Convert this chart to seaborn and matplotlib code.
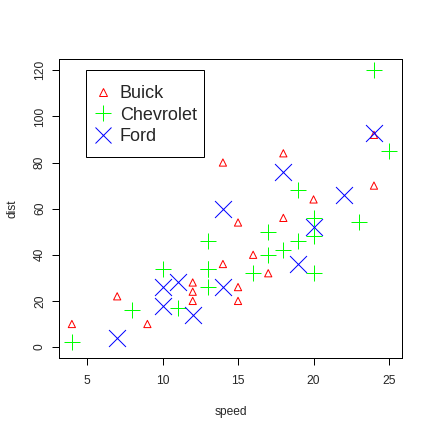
import matplotlib
matplotlib.use("Agg")
import matplotlib.pyplot as plt
from matplotlib.lines import Line2D
from matplotlib.patches import Rectangle
import pandas as pd
import seaborn as sns

# Stopping distance vs. speed, grouped by car make
speed = [4, 4, 7, 7, 8, 9, 10, 10, 10, 11, 11, 12, 12, 12, 12, 13, 13, 13, 13, 14,
         14, 14, 14, 15, 15, 15, 16, 16, 17, 17, 17, 18, 18, 18, 18, 19, 19, 19, 20, 20,
         20, 20, 20, 22, 23, 24, 24, 24, 24, 25]
dist = [2, 10, 4, 22, 16, 10, 18, 26, 34, 17, 28, 14, 20, 24, 28, 26, 34, 34, 46, 26,
        36, 60, 80, 20, 26, 54, 32, 40, 32, 40, 50, 42, 56, 76, 84, 36, 46, 68, 32, 48,
        52, 56, 64, 66, 54, 70, 92, 93, 120, 85]
make_code = ["C", "B", "F", "B", "C", "B", "F", "F", "C", "C", "F", "F", "B", "B", "B",
             "C", "C", "C", "C", "F", "B", "F", "B", "B", "B", "B", "C", "B", "B", "C",
             "C", "C", "B", "F", "B", "F", "C", "C", "C", "C", "F", "C", "B", "F", "C",
             "B", "B", "F", "C", "C"]
makes = ["Buick", "Chevrolet", "Ford"]

code_to_make = {m[0]: m for m in makes}
df = pd.DataFrame({"speed": speed, "dist": dist,
                   "make": [code_to_make[c] for c in make_code]})

sns.set_style("white")
plt.rcParams["font.family"] = ["Liberation Sans", "DejaVu Sans"]

W = H = 432
PX = 0.72  # one pixel in points at 100 dpi
styles = {
    "Buick": dict(marker="^", s=5.2 ** 2, facecolor="none", edgecolor="#FF0000",
                  linewidth=1.0 * PX),
    "Chevrolet": dict(marker="+", s=12.2 ** 2, color="#00FF00", linewidth=1.0 * PX),
    "Ford": dict(marker="x", s=12.2 ** 2, color="#0000FF", linewidth=1.0 * PX),
}

fig = plt.figure(figsize=(W / 100, H / 100), dpi=100)
ax = fig.add_axes([0.137, 0.171, 0.793, 0.692])

for m in makes:
    sub = df[df["make"] == m]
    sns.scatterplot(data=sub, x="speed", y="dist", ax=ax, legend=False, **styles[m])

ax.set_xlim(3.16, 25.84)
ax.set_ylim(-4.8, 124.8)
ax.set_xticks([5, 10, 15, 20, 25])
ax.set_yticks([0, 20, 40, 60, 80, 100, 120])

fs = 8.64
ax.set_xlabel("speed", fontsize=fs, labelpad=13.5)
ax.set_ylabel("dist", fontsize=fs, labelpad=11)
ax.tick_params(axis="both", direction="out", length=5, width=PX, color="black",
               labelsize=fs, left=True, bottom=True)
ax.tick_params(axis="x", pad=7.5)
ax.tick_params(axis="y", pad=4.5, labelrotation=90)
for lab in ax.get_yticklabels():
    lab.set_va("center")
for sp in ax.spines.values():
    sp.set_visible(True)
    sp.set_color("black")
    sp.set_linewidth(PX)

handles = [
    Line2D([], [], linestyle="none", marker="^", markersize=5.2, markerfacecolor="none",
           markeredgecolor="#FF0000", markeredgewidth=PX),
    Line2D([], [], linestyle="none", marker="+", markersize=12.2, color="#00FF00",
           markeredgewidth=PX),
    Line2D([], [], linestyle="none", marker="x", markersize=12.2, color="#0000FF",
           markeredgewidth=PX),
]
leg = ax.legend(handles, makes, loc="upper left",
                bbox_to_anchor=(94.1 / W, 1 - 85.0 / H), bbox_transform=fig.transFigure,
                borderaxespad=0, borderpad=0, frameon=False, fontsize=13,
                handlelength=0.95, handletextpad=0.48, labelspacing=0.25)

# legend box
x0, x1, y0, y1 = 86, 204, 70, 157
fig.add_artist(Rectangle((x0 / W, 1 - y1 / H), (x1 - x0) / W, (y1 - y0) / H,
                         transform=fig.transFigure, fill=False, edgecolor="black",
                         linewidth=PX))

fig.savefig("out.png", dpi=100)
